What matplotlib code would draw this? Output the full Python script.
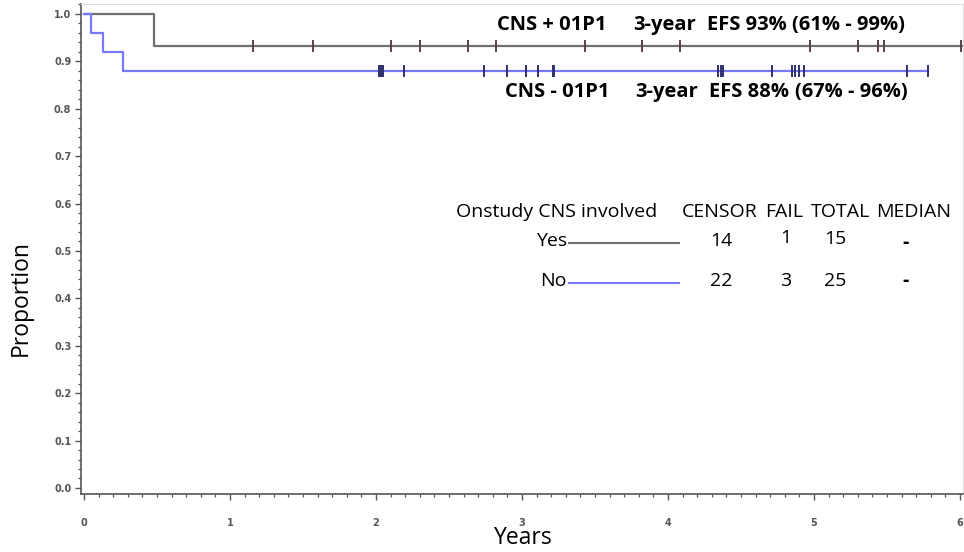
import matplotlib
matplotlib.use("Agg")
import matplotlib.pyplot as plt
from matplotlib.ticker import MultipleLocator, FormatStrFormatter

# ---- data ----
pos_step_times = [0.0, 0.48, 6.03]
pos_step_surv = [1.0, 0.9333, 0.9333]
pos_censor_times = [1.16, 1.57, 2.10, 2.30, 2.63, 2.82, 3.43, 3.82, 4.08,
                    4.97, 5.30, 5.44, 5.48, 6.01]

neg_step_times = [0.0, 0.05, 0.13, 0.27, 5.78]
neg_step_surv = [1.0, 0.96, 0.92, 0.88, 0.88]
neg_censor_times = [2.02, 2.025, 2.03, 2.04, 2.045, 2.19, 2.74, 2.90, 3.03,
                    3.11, 3.21, 3.22, 4.34, 4.36, 4.38, 4.71, 4.85, 4.87,
                    4.90, 4.93, 5.64, 5.78]

x_ticks = [0, 1, 2, 3, 4, 5, 6]
y_ticks = [0.0, 0.1, 0.2, 0.3, 0.4, 0.5, 0.6, 0.7, 0.8, 0.9, 1.0]

pos_label = ["CNS + 01P1", "3-year", "EFS 93%", "(61% - 99%)"]
neg_label = ["CNS - 01P1", "3-year", "EFS 88%", "(67% - 96%)"]
table_header = ["Onstudy CNS involved", "CENSOR", "FAIL", "TOTAL", "MEDIAN"]
table_groups = ["Yes", "No"]
table_censor = ["14", "22"]
table_fail = ["1", "3"]
table_total = ["15", "25"]
table_median = ["-", "-"]

W, H = 964, 552
fig = plt.figure(figsize=(W / 100, H / 100), dpi=100)
FONT = "Open Sans"
FS = 14.0
FSB = 14.5

def fx(px):
    return px / W

def fy(py):
    return 1 - py / H

ax = fig.add_axes([fx(81), fy(494), fx(963) - fx(81), fy(4) - fy(494)])

grey = "#707070"
blue = "#7777ff"

ax.step(pos_step_times, pos_step_surv, where="post", color=grey, lw=1.6)
ax.step(neg_step_times, neg_step_surv, where="post", color=blue, lw=1.6)

def surv_at(t, times, surv):
    val = surv[0]
    for tt, s in zip(times, surv):
        if t >= tt:
            val = s
    return val

ax.plot(pos_censor_times, [surv_at(t, pos_step_times, pos_step_surv) for t in pos_censor_times],
        ls="none", marker="|", ms=9, mew=1.4, color="#5a4050")
ax.plot(neg_censor_times, [surv_at(t, neg_step_times, neg_step_surv) for t in neg_censor_times],
        ls="none", marker="|", ms=9, mew=1.4, color="#303070")

ax.set_xlim(-0.0205, 6.0205)
ax.set_ylim(-0.0127, 1.021)
ax.set_xticks(x_ticks)
ax.set_yticks(y_ticks)
ax.xaxis.set_minor_locator(MultipleLocator(0.1))
ax.yaxis.set_minor_locator(MultipleLocator(0.02))
ax.yaxis.set_major_formatter(FormatStrFormatter("%.1f"))
ax.tick_params(axis="both", which="major", length=4, width=1.0, color="#555555",
               labelsize=7, labelcolor="#555555", pad=3)
ax.tick_params(axis="both", which="minor", length=2.5, width=0.9, color="#555555")
for lab in ax.get_xticklabels() + ax.get_yticklabels():
    lab.set_fontweight("bold")
    lab.set_family("DejaVu Sans")
ax.tick_params(axis="x", pad=13)
ax.spines["left"].set_color("#555555")
ax.spines["bottom"].set_color("#555555")
ax.spines["left"].set_linewidth(1.2)
ax.spines["bottom"].set_linewidth(1.2)
ax.spines["top"].set_color("#dddddd")
ax.spines["right"].set_color("#dddddd")

fig.text(fx(21), fy(298), "Proportion", rotation=90, ha="center", va="center",
         fontsize=16.5, family=FONT)
fig.text(fx(523), fy(538), "Years", ha="center", va="center", fontsize=16.5, family=FONT)

# annotations
for xs, y, labels in [([497, 633, 707, 792], 25, pos_label),
                      ([505, 635, 709, 795], 92, neg_label)]:
    for x, s in zip(xs, labels):
        fig.text(fx(x), fy(y), s, ha="left", va="center", fontsize=FSB,
                 fontweight="bold", family=FONT)

# table
hx = [456, 682, 765, 811, 876]
for x, s in zip(hx, table_header):
    fig.text(fx(x), fy(212), s, ha="left", va="center", fontsize=FS, family=FONT)

row_y = [241, 281]
line_colors = [grey, blue]
for i in range(2):
    y = row_y[i]
    fig.text(fx(567), fy(y), table_groups[i], ha="right", va="center", fontsize=FS, family=FONT)
    fig.add_artist(plt.Line2D([fx(569), fx(679)], [fy(y + 2), fy(y + 2)],
                              color=line_colors[i], lw=1.5))
    fig.text(fx(721), fy(y), table_censor[i], ha="center", va="center", fontsize=FS, family=FONT)
    fig.text(fx(786), fy(y - 3 if i == 0 else y), table_fail[i], ha="center", va="center",
             fontsize=FS, family=FONT)
    fig.text(fx(835), fy(y - 2 if i == 0 else y), table_total[i], ha="center", va="center",
             fontsize=FS, family=FONT)
    fig.text(fx(906), fy(y + 2 if i == 0 else y), table_median[i], ha="center", va="center",
             fontsize=FS, fontweight="bold", family=FONT)

fig.savefig("out.png", dpi=100)
